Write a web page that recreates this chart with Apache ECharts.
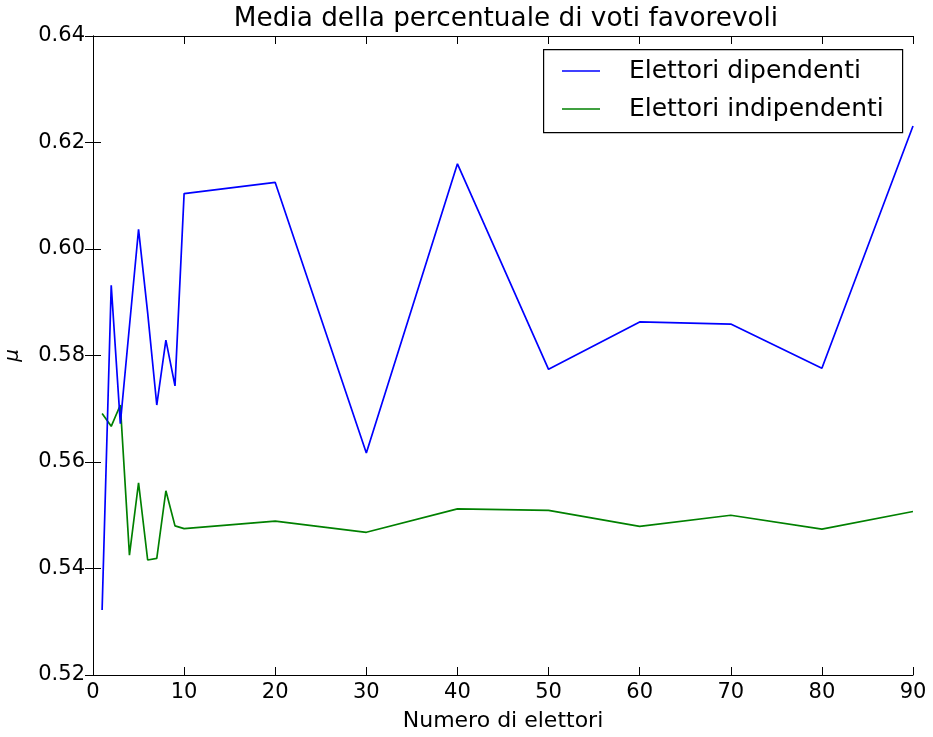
<!DOCTYPE html>
<html>
<head>
<meta charset="utf-8">
<script src="https://cdn.jsdelivr.net/npm/echarts@6/dist/echarts.min.js"></script>
<style>html,body{margin:0;padding:0;background:#fff}#c{width:933px;height:737px}</style>
</head>
<body>
<div id="c"></div>
<script>
var titleText = 'Media della percentuale di voti favorevoli';
var xName = 'Numero di elettori';
var yName = 'μ';
var seriesNames = ['Elettori dipendenti', 'Elettori indipendenti'];
var xValues = [1, 2, 3, 4, 5, 6, 7, 8, 9, 10, 20, 30, 40, 50, 60, 70, 80, 90];
var dipendenti = [0.5322, 0.5932, 0.5672, 0.5855, 0.6037, 0.5880, 0.5707, 0.5829, 0.5743, 0.6104, 0.6125, 0.5617, 0.6160, 0.5774, 0.5863, 0.5859, 0.5776, 0.6231];
var indipendenti = [0.5691, 0.5667, 0.5707, 0.5425, 0.5561, 0.5416, 0.5419, 0.5546, 0.5480, 0.5475, 0.5489, 0.5468, 0.5512, 0.5509, 0.5479, 0.5500, 0.5474, 0.5507];
var xTicks = [0, 90, 10];
var yTicks = [0.52, 0.64, 0.02];

function pairs(xs, ys) { return xs.map(function (x, i) { return [x, ys[i]]; }); }

var FONT = 'DejaVu Sans';
var chart = echarts.init(document.getElementById('c'), null, { renderer: 'canvas' });
var tickStyle = { show: true, inside: true, length: 8, lineStyle: { color: '#000', width: 1 } };
var lineStyleAxis = { show: true, lineStyle: { color: '#000', width: 1 } };
chart.setOption({
  animation: false,
  backgroundColor: '#fff',
  title: {
    text: titleText, left: 501, top: 1, textAlign: 'center',
    textStyle: { fontFamily: FONT, fontSize: 26.3, fontWeight: 'normal', color: '#000' }
  },
  graphic: [{
    type: 'rect', left: 543, top: 49, z: 50,
    shape: { width: 359, height: 83 },
    style: { fill: '#fff', stroke: '#000', lineWidth: 1.2 }
  }],
  legend: {
    orient: 'vertical', left: 562, top: 56, z: 60,
    padding: 0,
    icon: 'rect',
    itemWidth: 38, itemHeight: 1.6, itemGap: 8,
    textStyle: { fontFamily: FONT, fontSize: 25, color: '#000', lineHeight: 30, padding: [0, 0, 0, 24] },
    data: seriesNames
  },
  grid: { left: 93, right: 20, top: 36, bottom: 62, containLabel: false, outerBoundsMode: 'none' },
  xAxis: [{
    type: 'value', min: xTicks[0], max: xTicks[1], interval: xTicks[2],
    name: xName, nameLocation: 'middle', nameGap: 35,
    nameTextStyle: { fontFamily: FONT, fontSize: 22, color: '#000' },
    axisLine: lineStyleAxis, axisTick: tickStyle, splitLine: { show: false },
    axisLabel: { fontFamily: FONT, fontSize: 21, color: '#000', margin: 7 }
  }, {
    type: 'value', position: 'top', min: xTicks[0], max: xTicks[1], interval: xTicks[2],
    axisLine: lineStyleAxis, axisTick: tickStyle, splitLine: { show: false },
    axisLabel: { show: false }
  }],
  yAxis: [{
    type: 'value', min: yTicks[0], max: yTicks[1], interval: yTicks[2],
    name: yName, nameLocation: 'middle', nameGap: 70, nameRotate: 90,
    nameTextStyle: { fontFamily: FONT, fontSize: 20, color: '#000', fontStyle: 'italic' },
    axisLine: lineStyleAxis, axisTick: tickStyle, splitLine: { show: false },
    axisLabel: { fontFamily: FONT, fontSize: 21, color: '#000', margin: 8, formatter: function (v) { return v.toFixed(2); } }
  }, {
    type: 'value', position: 'right', min: yTicks[0], max: yTicks[1], interval: yTicks[2],
    axisLine: lineStyleAxis, axisTick: tickStyle, splitLine: { show: false },
    axisLabel: { show: false }
  }],
  series: [{
    name: seriesNames[0], type: 'line', data: pairs(xValues, dipendenti),
    symbol: 'none', color: '#0000ff', lineStyle: { color: '#0000ff', width: 1.7 }, z: 3
  }, {
    name: seriesNames[1], type: 'line', data: pairs(xValues, indipendenti),
    symbol: 'none', color: '#008000', lineStyle: { color: '#008000', width: 1.7 }, z: 2
  }]
});
</script>
</body>
</html>
